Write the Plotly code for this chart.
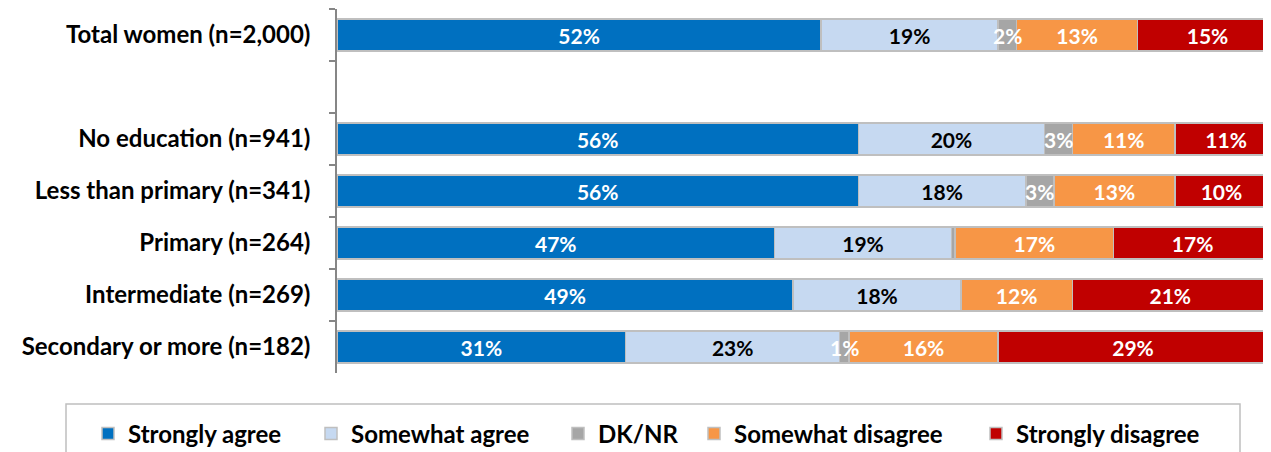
import plotly.graph_objects as go

categories = ["Total women (n=2,000)", " ", "No education (n=941)", "Less than primary (n=341)",
              "Primary (n=264)", "Intermediate (n=269)", "Secondary or more (n=182)"]
series_names = ["Strongly agree", "Somewhat agree", "DK/NR", "Somewhat disagree", "Strongly disagree"]
strongly_agree = [52, None, 56, 56, 47, 49, 31]
somewhat_agree = [19, None, 20, 18, 19, 18, 23]
dk_nr = [2, None, 3, 3, 0.4, 0, 1]
somewhat_disagree = [13, None, 11, 13, 17, 12, 16]
strongly_disagree = [15, None, 11, 10, 17, 21, 29]
dk_labels = ["2%", "", "3%", "3%", "", "", "1%"]

colors = ["#0070C0", "#C6D9F1", "#A6A6A6", "#F79646", "#C00000"]
text_colors = ["white", "black", "white", "white", "white"]
legend_text_px = [128, 351, 598, 734, 1016]   # window x where each legend label starts
FONT = "Lato"

OFF = 8  # default page body margin
W, H = 1271 - OFF, 452 - OFF
ML, MR, MT, MB = 337 - OFF, 3, 9 - OFF, 79
PW = W - ML - MR
PH = H - MT - MB

def px_to_x(px):
    return (px - OFF - ML) / PW

def py_to_y(py):
    return (MT + PH - (py - OFF)) / PH

def pct(vals):
    return ["" if v is None else f"{v:.0f}%" for v in vals]

series = [strongly_agree, somewhat_agree, dk_nr, somewhat_disagree, strongly_disagree]
texts = [pct(strongly_agree), pct(somewhat_agree), [""] * len(categories),
         pct(somewhat_disagree), pct(strongly_disagree)]

fig = go.Figure()
legend_layout = {}
for i, (name, vals, txt, col, tcol) in enumerate(zip(series_names, series, texts, colors, text_colors)):
    lname = "legend" if i == 0 else f"legend{i+1}"
    fig.add_trace(go.Bar(
        y=categories, x=vals, name=name, orientation="h",
        marker=dict(color=col, line=dict(color="#BFBFBF", width=1.5)),
        text=txt, textposition="inside", insidetextanchor="middle",
        constraintext="none", textangle=0,
        textfont=dict(family=FONT, size=21, color=tcol, weight="bold"),
        hoverinfo="skip", legend=lname,
    ))
    legend_layout[lname] = dict(
        orientation="h", x=px_to_x(legend_text_px[i] - 40), xanchor="left",
        y=py_to_y(434), yanchor="middle",
        font=dict(family=FONT, size=24, color="black", weight="bold"),
        bgcolor="rgba(0,0,0,0)", borderwidth=0,
    )

# DK/NR labels as annotations on top so they can spill over neighbouring segments
annotations = []
for cat, a, b, d, lab in zip(categories, strongly_agree, somewhat_agree, dk_nr, dk_labels):
    if a is None or not lab:
        continue
    annotations.append(dict(
        x=a + b + d / 2, y=cat, xref="x", yref="y", text=lab, showarrow=False,
        xanchor="center", yanchor="middle",
        font=dict(family=FONT, size=21, color="white", weight="bold"),
    ))

fig.update_layout(
    barmode="stack", bargap=0.385,
    width=W, height=H,
    margin=dict(l=ML, r=MR, t=MT, b=MB, autoexpand=False),
    plot_bgcolor="white", paper_bgcolor="white",
    font=dict(family=FONT, size=24, color="black"),
    showlegend=True,
    xaxis=dict(range=[0, 100], visible=False, fixedrange=True, automargin=False),
    yaxis=dict(categoryorder="array", categoryarray=categories, autorange="reversed",
               automargin=False,
               showline=True, linecolor="#868686", linewidth=1.5,
               ticks="outside", ticklen=6, tickcolor="#868686", tickwidth=1.5,
               tickson="boundaries", ticklabelstandoff=20,
               tickfont=dict(family=FONT, size=24, color="black", weight="bold"),
               showgrid=False),
    annotations=annotations,
    shapes=[dict(type="rect", xref="paper", yref="paper",
                 x0=px_to_x(66), x1=px_to_x(1240),
                 y0=py_to_y(404), y1=py_to_y(480),
                 line=dict(color="#BFBFBF", width=1.5), fillcolor="rgba(0,0,0,0)")],
    **legend_layout,
)

fig.write_html("out.html")
